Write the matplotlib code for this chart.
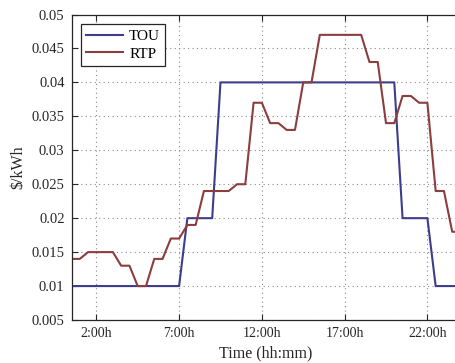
import matplotlib
matplotlib.use("Agg")
import matplotlib.pyplot as plt
import numpy as np

plt.rcParams['font.family'] = ['Liberation Serif', 'DejaVu Serif']
plt.rcParams['mathtext.fontset'] = 'stix'

hours = [0.5 * (i + 1) for i in range(48)]
tou = ([0.01] * 14 + [0.02] * 4 + [0.04] * 22 + [0.02] * 4 + [0.01] * 4)
rtp = [0.014, 0.014, 0.015, 0.015, 0.015, 0.015, 0.013, 0.013,
       0.010, 0.010, 0.014, 0.014, 0.017, 0.017, 0.019, 0.019,
       0.024, 0.024, 0.024, 0.024, 0.025, 0.025, 0.037, 0.037,
       0.034, 0.034, 0.033, 0.033, 0.040, 0.040, 0.047, 0.047,
       0.047, 0.047, 0.047, 0.047, 0.043, 0.043, 0.034, 0.034,
       0.038, 0.038, 0.037, 0.037, 0.024, 0.024, 0.018, 0.018]
xticks = [2, 7, 12, 17, 22]
xticklabels = ['2:00h', '7:00h', '12:00h', '17:00h', '22:00h']
yticks = [0.005, 0.01, 0.015, 0.02, 0.025, 0.03, 0.035, 0.04, 0.045, 0.05]
yticklabels = ['0.005', '0.01', '0.015', '0.02', '0.025', '0.03', '0.035', '0.04', '0.045', '0.05']

W, H = 455, 363
fig = plt.figure(figsize=(W / 100, H / 100), dpi=100)
ax = fig.add_axes([71.5 / W, 1 - 320 / H, 389 / W, 305.5 / H])

ax.plot(hours, tou, color='#3d3d8c', lw=1.5, label='TOU')
ax.plot(hours, rtp, color='#8c3d3d', lw=1.5, label='RTP')

ax.set_xlim(0.5, 24)
ax.set_ylim(0.005, 0.05)
ax.set_xticks(xticks)
ax.set_xticklabels(xticklabels, fontsize=10)
ax.set_yticks(yticks)
ax.set_yticklabels(yticklabels, fontsize=10.5)
ax.tick_params(direction='in', top=True, right=True, length=4, width=0.8,
               colors='#262626', labelcolor='#262626', pad=5)
ax.grid(True, linestyle=(0, (1, 3)), color='#888888', lw=0.8)
for s in ax.spines.values():
    s.set_color('#262626')
    s.set_linewidth(0.9)

ax.set_xlabel('Time (hh:mm)', fontsize=11.5, color='#262626', labelpad=4)
ax.set_ylabel('\\$/kWh', fontsize=11.5, color='#262626', labelpad=4)

leg = ax.legend(loc='upper left', fontsize=11, handlelength=2.4,
                fancybox=False, framealpha=1, edgecolor='#262626',
                borderpad=0.35, labelspacing=0.25, handletextpad=0.4,
                borderaxespad=0,
                bbox_to_anchor=((81 - 71.5) / 389, 1 - (24 - 14.5) / 305.5))
leg.get_frame().set_linewidth(0.9)

fig.savefig('out.png', dpi=100)
